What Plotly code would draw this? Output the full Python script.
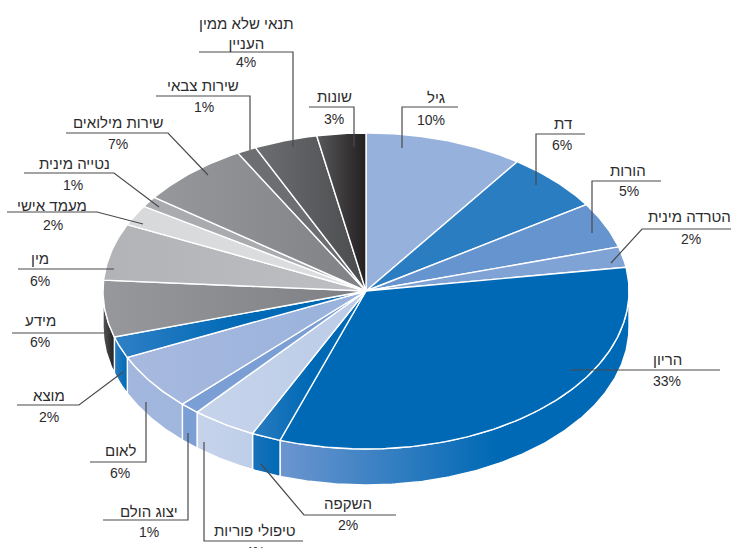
import math
import plotly.graph_objects as go

# --- data ---
categories = ["גיל", "דת", "הורות", "הטרדה מינית", "הריון", "השקפה", "טיפולי פוריות",
              "יצוג הולם", "לאום", "מוצא", "מידע", "מין", "מעמד אישי", "נטייה מינית",
              "שירות מילואים", "שירות צבאי", "תנאי שלא ממין<br>העניין", "שונות"]
shares = [9.75, 6.05, 4.7, 2.1, 32.7, 1.8, 4.0, 1.2, 5.8, 2.2, 5.8, 5.8, 2.1, 1.1, 6.8, 1.2, 3.9, 3.0]
percent_labels = ["10%", "6%", "5%", "2%", "33%", "2%", "4%", "1%", "6%", "2%", "6%", "6%", "2%", "1%", "7%", "1%", "4%", "3%"]

# --- styling ---
face_colors = [
    [[0, "#95B1DC"], [1, "#95B1DC"]], [[0, "#2A7DC1"], [1, "#2A7DC1"]], [[0, "#6594CE"], [1, "#6594CE"]],
    [[0, "#80A3D6"], [1, "#80A3D6"]], [[0, "#0069B5"], [1, "#0069B5"]],
    [[0, "#2A7CC0"], [0.5, "#0069B5"], [1, "#0069B5"]],
    [[0, "#C6D3EB"], [1, "#BCCCE7"]], [[0, "#7B9FD4"], [1, "#7B9FD4"]], [[0, "#A8B9DF"], [1, "#98B2DB"]],
    [[0, "#2F80C5"], [0.5, "#0069B5"], [1, "#0069B5"]],
    [[0, "#97989B"], [1, "#7E7F82"]], [[0, "#B1B3B6"], [1, "#BEBFC2"]],
    [[0, "#D8D9DA"], [1, "#DDDEDF"]], [[0, "#A9ABAE"], [1, "#A9ABAE"]], [[0, "#97989B"], [1, "#808184"]],
    [[0, "#6D6E71"], [1, "#6D6E71"]], [[0, "#6D6E71"], [1, "#4A4B4D"]], [[0, "#58595B"], [1, "#231F20"]],
]
wall_colors = {
    4: [[0, "#6C95CF"], [0.62, "#0069B5"], [1, "#0069B5"]],
    5: [[0, "#1B72BA"], [1, "#0069B5"]],
    6: [[0, "#C6D3EB"], [1, "#BFCEE8"]],
    7: [[0, "#7B9FD4"], [1, "#7B9FD4"]],
    8: [[0, "#A3B7DE"], [1, "#A0B6DD"]],
    9: [[0, "#2A7DC1"], [1, "#0069B5"]],
    10: [[0, "#555658"], [1, "#231F20"]],
}
CX, CY, RX, RY, DEPTH = 366, 291, 263, 158, 36
leaders = [
    [(458, 107), (402, 107), (402, 148)], [(585, 134), (536, 134), (536, 185)],
    [(661, 181), (592, 181), (592, 233)], [(731, 229), (642, 229), (611, 263)],
    [(720, 370), (570, 370)], [(396, 515), (304, 515), (261, 464)],
    [(303, 541), (204, 541), (204, 442)], [(103, 520), (188, 520), (188, 433)],
    [(90, 462), (146, 462), (146, 402)], [(17, 405), (79, 405), (123, 372)],
    [(12, 333), (110, 333)], [(18, 269), (114, 269)],
    [(7, 212), (97, 212), (143, 224)], [(24, 173), (114, 173), (159, 207)],
    [(66, 133), (168, 133), (208, 175)], [(156, 96), (250, 96), (250, 150)],
    [(199, 52), (293, 52), (293, 147)], [(309, 107), (354, 107), (354, 147)],
]
name_pos = [(436, 97), (563, 123), (628, 170), (689, 216), (667, 359), (348, 503), (255, 530),
            (149, 511), (120, 450), (49, 395), (40, 320), (40, 258), (52, 205), (74, 163),
            (118, 122), (203, 85), (246, 33), (334, 96)]
pct_pos = [(431, 120), (562, 145), (629, 191), (691, 239), (667, 381), (348, 525), (255, 553),
           (149, 532), (120, 473), (49, 417), (40, 342), (40, 281), (53, 225), (73, 185),
           (118, 144), (204, 107), (246, 62), (334, 119)]


def rim(t0, t1, dy=0):
    n = max(2, int(abs(t1 - t0) * 1.5) + 1)
    pts = [t0 + (t1 - t0) * i / (n - 1) for i in range(n)]
    return ([CX + RX * math.sin(math.radians(t)) for t in pts],
            [CY + dy - RY * math.cos(math.radians(t)) for t in pts])


fig = go.Figure()
total = sum(shares)
start = 0.0
spans = []
for s in shares:
    end = start + s / total * 360
    spans.append((start, end))
    start = end


def add_poly(xs, ys, scale):
    fig.add_trace(go.Scatter(
        x=xs, y=ys, mode="lines", fill="toself",
        line=dict(color="white", width=1.4),
        fillgradient=dict(type="horizontal", colorscale=scale),
        hoverinfo="skip", showlegend=False))


# side walls: visible half of the cylinder, drawn before the top faces
for i, (a, b) in enumerate(spans):
    lo, hi = max(a, 90), min(b, 270)
    if hi <= lo or i not in wall_colors:
        continue
    xt, yt = rim(lo, hi)
    xb, yb = rim(lo, hi, DEPTH)
    add_poly(xt + xb[::-1] + [xt[0]], yt + yb[::-1] + [yt[0]], wall_colors[i])

# top faces
for i, (a, b) in enumerate(spans):
    xt, yt = rim(a, b)
    add_poly([CX] + xt + [CX], [CY] + yt + [CY], face_colors[i])

# leader lines
for pts in leaders:
    fig.add_trace(go.Scatter(x=[p[0] for p in pts], y=[p[1] for p in pts], mode="lines",
                             line=dict(color="#4A4A4C", width=1.2), hoverinfo="skip", showlegend=False))

annotations = []
for name, pct, np_, pp in zip(categories, percent_labels, name_pos, pct_pos):
    annotations.append(dict(x=np_[0], y=np_[1], text=name, showarrow=False, xanchor="center", yanchor="middle",
                            font=dict(family="Liberation Sans", size=15, color="#2B2B2D")))
    clipped = pp[1] > 545
    annotations.append(dict(x=pp[0], y=542 if clipped else pp[1], text=pct, showarrow=False, xanchor="center",
                            yanchor="top" if clipped else "middle",
                            font=dict(family="Liberation Sans", size=14, color="#2B2B2D")))

fig.update_layout(
    width=731, height=548, margin=dict(l=0, r=0, t=0, b=0),
    paper_bgcolor="white", plot_bgcolor="white", showlegend=False,
    xaxis=dict(range=[0, 731], visible=False, fixedrange=True),
    yaxis=dict(range=[548, 0], visible=False, fixedrange=True),
    annotations=annotations,
)
fig.write_html("out.html", config={"displayModeBar": False},
               post_script="document.body.style.margin='0';")
